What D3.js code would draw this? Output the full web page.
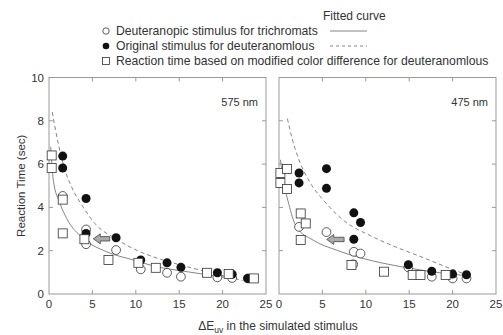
<!DOCTYPE html>
<html><head><meta charset="utf-8">
<script src="https://cdn.jsdelivr.net/npm/d3@7/dist/d3.min.js"></script>
<style>body{margin:0;background:#fff}svg{display:block}text{font-family:"Liberation Sans",Arial,sans-serif}</style>
</head><body>
<script>
// ---------- DATA ----------
const xTicks = [0, 5, 10, 15, 20, 25];
const yTicks = [0, 2, 4, 6, 8, 10];
const panelNames = ["575 nm", "475 nm"];
const legendLabels = ["Deuteranopic stimulus for trichromats", "Original stimulus for deuteranomlous", "Reaction time based on modified color difference for deuteranomlous"];

// 575 nm
const p575_open = [[1.58,4.53],[4.27,2.98],[4.27,2.3],[7.73,2.03],[10.57,1.14],[13.6,0.98],[15.2,0.8],[19.4,0.77],[21.1,0.74],[22.9,0.72]];
const p575_filled = [[1.58,6.37],[1.58,5.82],[4.27,4.41],[4.27,2.8],[7.73,2.6],[10.57,1.57],[13.6,1.44],[15.2,1.23],[19.4,0.98],[21.1,0.91],[22.9,0.72]];
const p575_square = [[0.31,6.4],[0.31,5.82],[1.58,4.36],[1.58,2.8],[4.08,2.53],[6.85,1.57],[10.3,1.44],[12.3,1.21],[18.2,0.98],[20.7,0.92],[23.6,0.72]];
const p575_solid = [[0.2,6.8],[0.5,5.25],[1.27,4.18],[2.04,3.49],[3.96,2.56],[6.65,1.95],[9.72,1.57],[12,1.3],[15.9,1.03],[19.7,0.8],[21.5,0.7]];
const p575_dashed = [[0.38,8.4],[1.07,6.94],[1.85,5.71],[2.6,4.95],[3.96,4.0],[5.3,3.25],[7.7,2.55],[10.5,1.95],[12,1.72],[15.9,1.26],[19.7,0.88],[22.3,0.62]];
const p575_arrow = [[7.0,2.55],[5.1,2.55]];

// 475 nm
const p475_open = [[2.31,3.1],[5.47,2.86],[8.62,1.95],[9.39,1.87],[8.55,1.37],[14.9,1.23],[17.6,0.8],[20.0,0.72],[21.6,0.72]];
const p475_filled = [[2.31,5.59],[2.31,5.13],[5.47,5.79],[5.47,4.88],[8.62,3.75],[9.39,3.3],[8.62,2.53],[14.9,1.35],[17.6,1.05],[20.0,0.92],[21.6,0.89]];
const p475_square = [[0.16,5.59],[0.16,5.13],[0.92,5.77],[0.92,4.85],[2.5,3.72],[3.08,3.26],[2.5,2.49],[8.35,1.34],[12.1,1.03],[15.4,0.88],[16.3,0.88],[19.2,0.88]];
const p475_solid = [[0.16,6.2],[0.46,5.4],[1.23,4.0],[2.0,3.1],[3.92,2.49],[6.6,2.03],[9.7,1.64],[12,1.42],[15.85,1.14],[19.7,0.92],[21.6,0.85]];
const p475_dashed = [[0.97,8.1],[1.5,7.2],[2.3,6.2],[3.5,5.2],[5.3,4.25],[7.6,3.35],[10.5,2.7],[13.9,2.1],[15.85,1.8],[19.7,1.18],[21.2,0.95]];
const p475_arrow = [[7.5,2.52],[5.5,2.52]];

const panels = [
  {name: panelNames[0], open: p575_open, filled: p575_filled, square: p575_square, solid: p575_solid, dashed: p575_dashed, arrow: p575_arrow, x0: 49, x1: 266},
  {name: panelNames[1], open: p475_open, filled: p475_filled, square: p475_square, solid: p475_solid, dashed: p475_dashed, arrow: p475_arrow, x0: 279, x1: 496}
];

// ---------- DRAW ----------
const W = 503, H = 335;
const svg = d3.select("body").append("svg").attr("width", W).attr("height", H);
const yTop = 77.5, yBot = 294;
const y = d3.scaleLinear().domain([0, 10]).range([yBot, yTop]);
const frameCol = "#999", textCol = "#333", curveCol = "#777";

panels.forEach((p, i) => {
  const x = d3.scaleLinear().domain([0, 25]).range([p.x0, p.x1]);
  const g = svg.append("g");
  g.append("rect").attr("x", p.x0).attr("y", yTop).attr("width", p.x1 - p.x0).attr("height", yBot - yTop)
    .attr("fill", "none").attr("stroke", frameCol).attr("stroke-width", 1);
  const tl = 4;
  xTicks.slice(1, -1).forEach(t => {
    g.append("line").attr("x1", x(t)).attr("x2", x(t)).attr("y1", yBot).attr("y2", yBot - tl).attr("stroke", frameCol);
    g.append("line").attr("x1", x(t)).attr("x2", x(t)).attr("y1", yTop).attr("y2", yTop + tl).attr("stroke", frameCol);
  });
  yTicks.slice(1, -1).forEach(t => {
    g.append("line").attr("x1", p.x0).attr("x2", p.x0 + tl).attr("y1", y(t)).attr("y2", y(t)).attr("stroke", frameCol);
    g.append("line").attr("x1", p.x1).attr("x2", p.x1 - tl).attr("y1", y(t)).attr("y2", y(t)).attr("stroke", frameCol);
  });
  xTicks.forEach(t => {
    g.append("text").attr("x", x(t)).attr("y", 308).attr("text-anchor", "middle")
      .attr("font-size", 11.5).attr("fill", textCol).text(t);
  });
  if (i === 0) {
    yTicks.forEach(t => {
      g.append("text").attr("x", 44).attr("y", y(t) + 4).attr("text-anchor", "end")
        .attr("font-size", 11.5).attr("fill", textCol).text(t);
    });
  }
  g.append("text").attr("x", p.x1 - 8).attr("y", 106).attr("text-anchor", "end")
    .attr("font-size", 11).attr("fill", textCol).text(p.name);

  const line = d3.line().x(d => x(d[0])).y(d => y(d[1])).curve(d3.curveMonotoneX);
  g.append("path").attr("d", line(p.solid)).attr("fill", "none").attr("stroke", curveCol).attr("stroke-width", 0.9);
  g.append("path").attr("d", line(p.dashed)).attr("fill", "none").attr("stroke", curveCol).attr("stroke-width", 0.9).attr("stroke-dasharray", "4,3");

  g.selectAll(null).data(p.open).join("circle").attr("cx", d => x(d[0])).attr("cy", d => y(d[1])).attr("r", 4.4)
    .attr("fill", "#fff").attr("stroke", "#333").attr("stroke-width", 0.8);
  g.selectAll(null).data(p.filled).join("circle").attr("cx", d => x(d[0])).attr("cy", d => y(d[1])).attr("r", 4.5)
    .attr("fill", "#111");
  const s = 9;
  g.selectAll(null).data(p.square).join("rect").attr("x", d => x(d[0]) - s / 2).attr("y", d => y(d[1]) - s / 2)
    .attr("width", s).attr("height", s).attr("fill", "#fff").attr("stroke", "#333").attr("stroke-width", 0.8);

  const ax0 = x(p.arrow[0][0]), ax1 = x(p.arrow[1][0]), ay = y(p.arrow[0][1]);
  const hw = 7;
  const pts = [[ax1, ay], [ax1 + hw, ay - 5], [ax1 + hw, ay - 2.2], [ax0, ay - 2.2], [ax0, ay + 2.2], [ax1 + hw, ay + 2.2], [ax1 + hw, ay + 5]];
  g.append("path").attr("d", "M" + pts.map(q => q.join(",")).join("L") + "Z")
    .attr("fill", "#aaa").attr("stroke", "#444").attr("stroke-width", 0.8);
});

svg.append("text").attr("transform", `translate(25,${(yTop + yBot) / 2}) rotate(-90)`).attr("text-anchor", "middle")
  .attr("font-size", 11.5).attr("fill", textCol).text("Reaction Time (sec)");
const xt = svg.append("text").attr("x", 278).attr("y", 330).attr("text-anchor", "middle").attr("font-size", 12).attr("fill", textCol);
xt.append("tspan").text("ΔE");
xt.append("tspan").attr("font-size", 8.5).attr("dy", 3).text("uv");
xt.append("tspan").attr("dy", -3).text(" in the simulated stimulus");

svg.append("text").attr("x", 323).attr("y", 20).attr("font-size", 12).attr("fill", textCol).text("Fitted curve");
const ly = [31, 46, 61];
const lg = svg.append("g");
lg.append("circle").attr("cx", 106).attr("cy", ly[0]).attr("r", 3.2).attr("fill", "#fff").attr("stroke", "#333").attr("stroke-width", 0.8);
lg.append("circle").attr("cx", 106).attr("cy", ly[1]).attr("r", 3.3).attr("fill", "#111");
lg.append("rect").attr("x", 102.5).attr("y", ly[2] - 3.5).attr("width", 7).attr("height", 7).attr("fill", "#fff").attr("stroke", "#333").attr("stroke-width", 0.8);
legendLabels.forEach((t, k) => {
  lg.append("text").attr("x", 116).attr("y", ly[k] + 4).attr("font-size", 12.2).attr("fill", textCol).text(t);
});
lg.append("line").attr("x1", 330).attr("x2", 367).attr("y1", ly[0]).attr("y2", ly[0]).attr("stroke", curveCol).attr("stroke-width", 0.9);
lg.append("line").attr("x1", 330).attr("x2", 367).attr("y1", ly[1]).attr("y2", ly[1]).attr("stroke", curveCol).attr("stroke-width", 0.9).attr("stroke-dasharray", "3,3");
</script>
</body></html>
